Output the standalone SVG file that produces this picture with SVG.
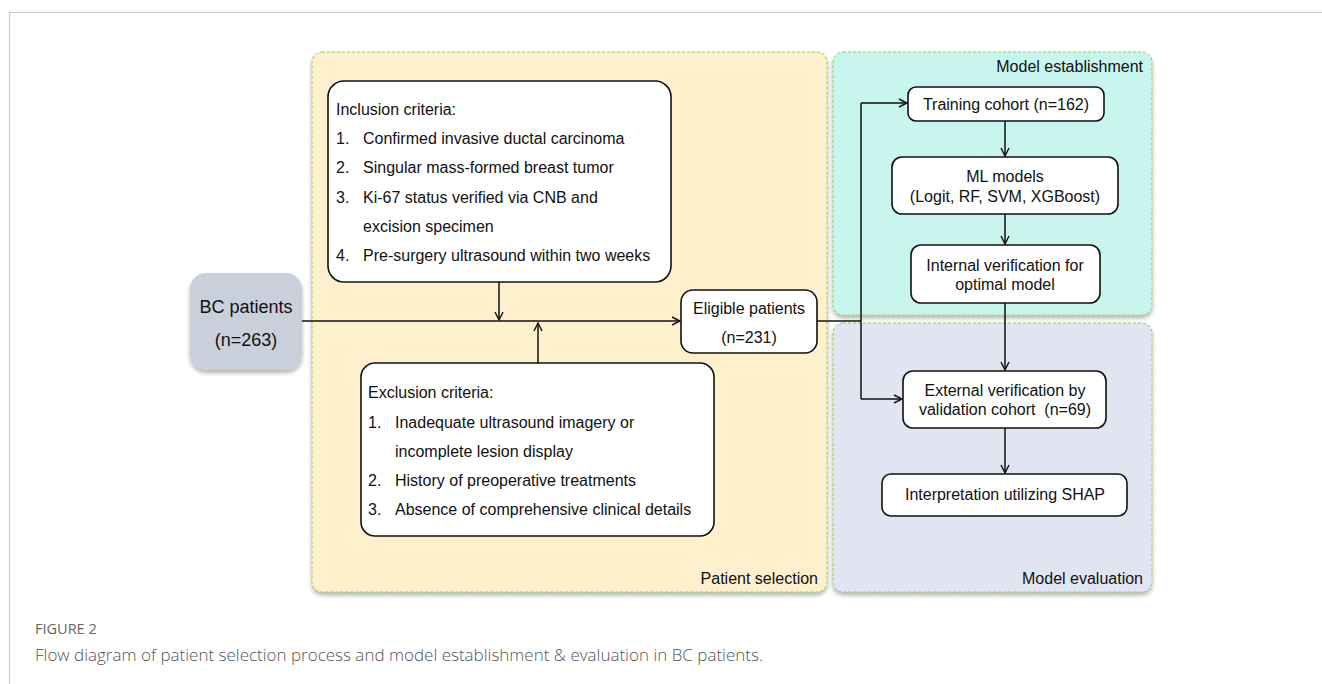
<svg xmlns="http://www.w3.org/2000/svg" width="1322" height="684" viewBox="0 0 1322 684">
<style>
.t{font-family:"Liberation Sans",Arial,sans-serif;font-size:16px;fill:#111}
.c{text-anchor:middle}
.e{text-anchor:end}
.node{fill:#fff;stroke:#111;stroke-width:1.6}
.panel{stroke:#8fd14f;stroke-width:1;stroke-dasharray:3 2}
.ln{fill:none;stroke:#111;stroke-width:1.5}
.cap{font-family:"Open Sans","Liberation Sans",sans-serif}
</style>
<defs>
<marker id="ah" viewBox="0 0 10 10" refX="9" refY="5" markerWidth="10" markerHeight="10" markerUnits="userSpaceOnUse" orient="auto">
<path d="M1,1 L9,5 L1,9" fill="none" stroke="#111" stroke-width="1.4"/>
</marker>
<filter id="sh" x="-5%" y="-5%" width="110%" height="112%">
<feDropShadow dx="0" dy="3" stdDeviation="2" flood-color="#000" flood-opacity="0.3"/>
</filter>
</defs>
<rect width="1322" height="684" fill="#fff"/>
<path d="M9.5,684 V12.5 H1322" fill="none" stroke="#c8c8c8" stroke-width="1.2"/>

<g id="panel-patient-selection">
<rect class="panel" x="312" y="52" width="515" height="540" rx="10" fill="#fff0cd" filter="url(#sh)"/>
<text class="t e" x="818" y="584">Patient selection</text>
</g>
<g id="panel-model-establishment">
<rect class="panel" x="833" y="52" width="319" height="263" rx="10" fill="#c8f5ee" filter="url(#sh)"/>
<text class="t e" x="1143" y="72">Model establishment</text>
</g>
<g id="panel-model-evaluation">
<rect class="panel" x="833" y="323" width="319" height="269" rx="10" fill="#e1e5f2" filter="url(#sh)"/>
<text class="t e" x="1143" y="584">Model evaluation</text>
</g>

<g id="connectors">
<path class="ln" d="M302,321 H680" marker-end="url(#ah)"/>
<path class="ln" d="M499,282 V320" marker-end="url(#ah)"/>
<path class="ln" d="M538,363 V323" marker-end="url(#ah)"/>
<path class="ln" d="M817,321 H861"/>
<path class="ln" d="M861,103 V399"/>
<path class="ln" d="M861,103 H907" marker-end="url(#ah)"/>
<path class="ln" d="M861,399 H902" marker-end="url(#ah)"/>
<path class="ln" d="M1005,121 V156" marker-end="url(#ah)"/>
<path class="ln" d="M1005,214 V244" marker-end="url(#ah)"/>
<path class="ln" d="M1005,303 V370" marker-end="url(#ah)"/>
<path class="ln" d="M1005,428 V473" marker-end="url(#ah)"/>
</g>

<g id="bc-patients">
<rect x="190" y="273" width="112" height="97" rx="16" fill="#c9d0dc" filter="url(#sh)"/>
<text class="t c" x="246" y="313" style="font-size:18px">BC patients</text>
<text class="t c" x="246" y="346" style="font-size:18px">(n=263)</text>
</g>

<g id="inclusion-criteria">
<rect class="node" x="328" y="81" width="343" height="201" rx="16"/>
<text class="t" x="336" y="115">Inclusion criteria:</text>
<text class="t" x="336" y="144">1.</text><text class="t" x="363" y="144">Confirmed invasive ductal carcinoma</text>
<text class="t" x="336" y="173">2.</text><text class="t" x="363" y="173">Singular mass-formed breast tumor</text>
<text class="t" x="336" y="203">3.</text><text class="t" x="363" y="203">Ki-67 status verified via CNB and</text>
<text class="t" x="363" y="232">excision specimen</text>
<text class="t" x="336" y="261">4.</text><text class="t" x="363" y="261">Pre-surgery ultrasound within two weeks</text>
</g>

<g id="exclusion-criteria">
<rect class="node" x="361" y="363" width="353" height="173" rx="14"/>
<text class="t" x="368" y="398">Exclusion criteria:</text>
<text class="t" x="368" y="428">1.</text><text class="t" x="395" y="428">Inadequate ultrasound imagery or</text>
<text class="t" x="395" y="457">incomplete lesion display</text>
<text class="t" x="368" y="486">2.</text><text class="t" x="395" y="486">History of preoperative treatments</text>
<text class="t" x="368" y="515">3.</text><text class="t" x="395" y="515">Absence of comprehensive clinical details</text>
</g>

<g id="eligible-patients">
<rect class="node" x="681" y="290" width="136" height="63" rx="12"/>
<text class="t c" x="749" y="314">Eligible patients</text>
<text class="t c" x="749" y="343">(n=231)</text>
</g>

<g id="training-cohort">
<rect class="node" x="908" y="87" width="196" height="34" rx="8"/>
<text class="t c" x="1006" y="110">Training cohort (n=162)</text>
</g>

<g id="ml-models">
<rect class="node" x="892" y="157" width="226" height="57" rx="10"/>
<text class="t c" x="1005" y="182">ML models</text>
<text class="t c" x="1005" y="202">(Logit, RF, SVM, XGBoost)</text>
</g>

<g id="internal-verification">
<rect class="node" x="911" y="245" width="189" height="58" rx="10"/>
<text class="t c" x="1005" y="271">Internal verification for</text>
<text class="t c" x="1005" y="290">optimal model</text>
</g>

<g id="external-verification">
<rect class="node" x="903" y="371" width="203" height="57" rx="10"/>
<text class="t c" x="1005" y="396">External verification by</text>
<text class="t c" x="1005" y="415" xml:space="preserve">validation cohort  (n=69)</text>
</g>

<g id="interpretation-shap">
<rect class="node" x="882" y="474" width="245" height="42" rx="9"/>
<text class="t c" x="1005" y="500">Interpretation utilizing SHAP</text>
</g>

<g id="caption">
<text class="cap" x="35" y="634" font-size="14.5" fill="#666">FIGURE 2</text>
<text class="cap" x="35" y="661" font-size="17" font-weight="300" fill="#555">Flow diagram of patient selection process and model establishment &amp; evaluation in BC patients.</text>
</g>
</svg>
